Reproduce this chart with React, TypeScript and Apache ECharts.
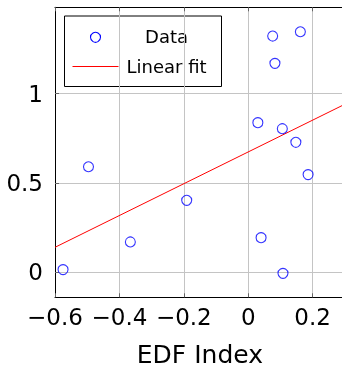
import React, { useEffect, useRef } from "react";
import * as echarts from "echarts";

const dataX = [-0.575, -0.366, -0.191, -0.496, 0.040, 0.108, 0.030, 0.106, 0.148, 0.186, 0.076, 0.162, 0.083];
const dataY = [0.015, 0.170, 0.403, 0.591, 0.194, -0.006, 0.838, 0.804, 0.728, 0.547, 1.323, 1.347, 1.170];
const fitX = [-0.6, 0.3];
const fitY = [0.14, 0.941];
const legendLabels = ["Data", "Linear fit"];
const xLabel = "EDF Index";

const FONT = "DejaVu Sans";

const fmt = (v: number) => {
  const r = Math.round(v * 100) / 100;
  const s = String(Math.abs(r));
  return r < 0 ? "\u2212" + s : s;
};

export default function App() {
  const ref = useRef<HTMLDivElement>(null);
  useEffect(() => {
    if (!ref.current) return;
    const chart = echarts.init(ref.current, undefined, { renderer: "svg" });
    const tickStyle = { show: true, inside: true, length: 4, lineStyle: { color: "#666", width: 1 } };
    const gridLine = { show: true, showMinLine: false, showMaxLine: false, lineStyle: { color: "#c4c4c4", width: 1 } };
    chart.setOption({
      animation: false,
      textStyle: { fontFamily: FONT },
      grid: { left: 55, top: 7.3, right: -2.8, bottom: 72.7, containLabel: false, outerBoundsMode: "none" },
      xAxis: [
        {
          type: "value",
          min: -0.6,
          max: 0.3,
          interval: 0.2,
          position: "bottom",
          axisLine: { show: true, onZero: false, lineStyle: { color: "#000", width: 1 } },
          axisTick: tickStyle,
          splitLine: gridLine,
          axisLabel: { show: true, formatter: fmt, fontSize: 23, color: "#000", margin: 8, fontFamily: FONT },
          name: xLabel,
          nameLocation: "middle",
          nameGap: 47,
          nameTextStyle: { fontSize: 25, lineHeight: 21, color: "#000", fontFamily: FONT },
        },
        {
          type: "value",
          min: -0.6,
          max: 0.3,
          interval: 0.2,
          position: "top",
          axisLine: { show: true, onZero: false, lineStyle: { color: "#000", width: 1 } },
          axisTick: tickStyle,
          splitLine: { show: false },
          axisLabel: { show: false },
        },
      ],
      yAxis: [
        {
          type: "value",
          min: -0.14,
          max: 1.484,
          splitNumber: 3,
          axisLine: { show: true, onZero: false, lineStyle: { color: "#000", width: 1 } },
          axisTick: tickStyle,
          splitLine: gridLine,
          axisLabel: {
            show: true,
            formatter: fmt,
            fontSize: 23,
            color: "#000",
            margin: 12,
            fontFamily: FONT,
            showMinLabel: false,
            showMaxLabel: false,
          },
        },
      ],
      series: [
        {
          name: legendLabels[0],
          type: "scatter",
          xAxisIndex: 0,
          data: dataX.map((x, i) => [x, dataY[i]]),
          symbol: "circle",
          symbolSize: 10,
          itemStyle: { color: "transparent", borderColor: "#0000ff", borderWidth: 1.1 },
          z: 3,
        },
        {
          name: legendLabels[1],
          type: "line",
          xAxisIndex: 0,
          data: fitX.map((x, i) => [x, fitY[i]]),
          showSymbol: false,
          symbol: "none",
          lineStyle: { color: "#ff0000", width: 1 },
          clip: true,
          z: 2,
        },
      ],
      graphic: [
        {
          type: "group",
          z: 100,
          children: [
            {
              type: "rect",
              shape: { x: 64.5, y: 16, width: 157, height: 70.5 },
              style: { fill: "#fff", stroke: "#000", lineWidth: 1 },
            },
            {
              type: "circle",
              shape: { cx: 95.5, cy: 37.3, r: 5 },
              style: { fill: "none", stroke: "#0000ff", lineWidth: 1.1 },
            },
            {
              type: "line",
              shape: { x1: 72.5, y1: 66.5, x2: 118.5, y2: 66.5 },
              style: { stroke: "#ff0000", lineWidth: 1 },
            },
            {
              type: "text",
              x: 166.5,
              y: 36.5,
              style: { text: legendLabels[0], fontSize: 18, fontFamily: FONT, fill: "#000", align: "center", verticalAlign: "middle" },
            },
            {
              type: "text",
              x: 166.5,
              y: 66.5,
              style: { text: legendLabels[1], fontSize: 18, fontFamily: FONT, fill: "#000", align: "center", verticalAlign: "middle" },
            },
          ],
        },
      ],
    });
    return () => chart.dispose();
  }, []);
  return <div ref={ref} style={{ position: "fixed", left: 0, top: 0, width: 342, height: 370 }} />;
}
